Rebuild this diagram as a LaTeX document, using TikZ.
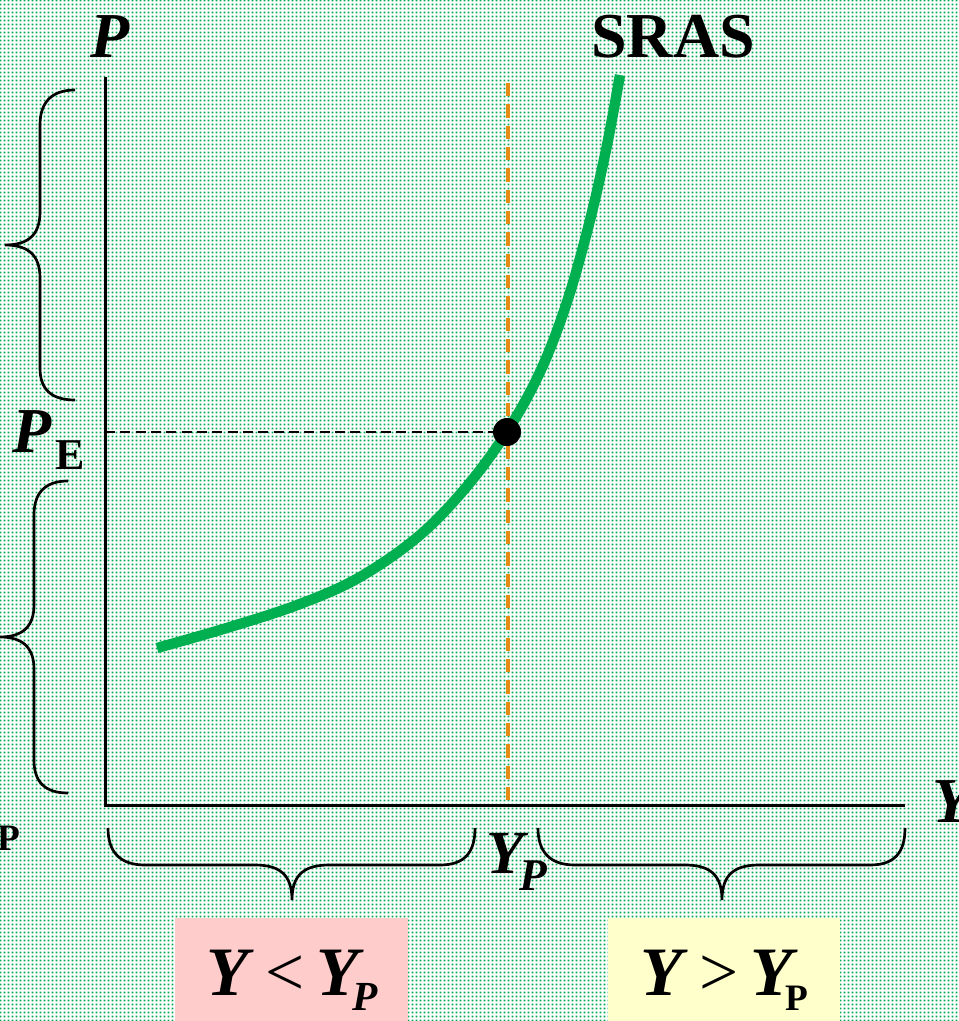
\documentclass[tikz,border=0pt]{standalone}
\usepackage{fontspec}
\setmainfont{Liberation Serif}
\usetikzlibrary{patterns.meta}
\definecolor{dotgreen}{RGB}{0,168,80}
\definecolor{curvegreen}{RGB}{0,176,80}
\definecolor{pinkbox}{RGB}{255,204,204}
\definecolor{yellowbox}{RGB}{255,255,204}
\definecolor{orangeline}{RGB}{230,140,20}
\pgfdeclarepattern{
  name=bgdots, type=uncolored,
  bottom left={\pgfpoint{0pt}{0pt}}, top right={\pgfpoint{3pt}{3pt}},
  tile size={\pgfpoint{3pt}{3pt}},
  code={\pgfpathrectangle{\pgfpoint{0.7pt}{0.7pt}}{\pgfpoint{1.6pt}{1.6pt}}\pgfusepath{fill}}
}
\tikzset{
  lbl/.style={inner sep=0pt, anchor=base west},
  bigfont/.style={font=\fontsize{48}{50}\selectfont\bfseries},
  bracepath/.style={line width=2pt, black},
  axisline/.style={line width=2.25pt, black},
}
\begin{document}
\begin{tikzpicture}[x=0.75pt,y=-0.75pt]
\useasboundingbox (0,0) rectangle (958,1021);
% background
\fill[white] (0,0) rectangle (958,1021);
\fill[pattern=bgdots, pattern color=dotgreen] (0,0) rectangle (958,1021);
% boxes
\fill[pinkbox] (175,918) rectangle (408,1021);
\fill[yellowbox] (608,918) rectangle (840,1021);
% left braces
\draw[bracepath] (75,90) .. controls (52,90) and (40,102) .. (40,125) -- (40,212)
  .. controls (40,235) and (28,245) .. (5,245)
  .. controls (28,245) and (40,255) .. (40,278) -- (40,368)
  .. controls (40,390) and (52,400) .. (75,400);
\draw[bracepath] (68,481) .. controls (45,481) and (34,493) .. (34,515) -- (34,605)
  .. controls (34,627) and (22,637) .. (0,637)
  .. controls (22,637) and (34,647) .. (34,669) -- (34,760)
  .. controls (34,782) and (45,793) .. (68,793);
% bottom braces
\draw[bracepath] (108,828) .. controls (108,852) and (120,865) .. (145,865) -- (255,865)
  .. controls (280,865) and (292,875) .. (292,900)
  .. controls (292,875) and (304,865) .. (329,865) -- (440,865)
  .. controls (465,865) and (475,852) .. (475,828);
\draw[bracepath] (538,828) .. controls (538,852) and (550,865) .. (575,865) -- (685,865)
  .. controls (710,865) and (722,875) .. (722,900)
  .. controls (722,875) and (734,865) .. (759,865) -- (870,865)
  .. controls (895,865) and (905,852) .. (905,828);
% axes
\coordinate (origin) at (105,805);
\coordinate (ytop) at (105,77);
\coordinate (xend) at (905,805);
\draw[axisline] (ytop) -- (origin) -- (xend);
% equilibrium point and guides
\coordinate (E) at (507,432);
\coordinate (PEaxis) at (105,432);
\coordinate (YPtop) at (508,83);
\coordinate (YPaxis) at (508,805);
\draw[line width=1.5pt, dash pattern=on 7.5pt off 4pt] (PEaxis) -- (E);
\draw[orangeline, line width=3pt, dash pattern=on 10pt off 6pt] (YPtop) -- (YPaxis);
% SRAS curve
\draw[curvegreen, line width=7.8pt] plot[smooth, tension=0.6] coordinates {
 (157,648) (230,627) (300,604) (360,577) (420,535) (468,485) (508,430)
 (540,372) (566,305) (588,228) (606,150) (620,75)};
\fill[black] (E) circle[radius=14];
% labels
\node[lbl, bigfont] (Plbl) at (90,57) {\itshape P};
\node[lbl, bigfont] (SRAS) at (591,57) {SRAS};
\node[lbl, bigfont] (PE) at (12,452) {\itshape P};
\node[lbl, font=\fontsize{33}{35}\selectfont\bfseries] (PEsub) at (55,469) {E};
\node[lbl, bigfont] (Ylbl) at (932,822) {\itshape Y};
\node[lbl, font=\fontsize{28}{30}\selectfont\bfseries] (Pcut) at (-3,850) {P};
\node[lbl, font=\fontsize{46}{48}\selectfont\bfseries\itshape] (YP) at (486,873) {Y};
\node[lbl, font=\fontsize{34}{36}\selectfont\bfseries\itshape] (YPsub) at (519,890) {P};
% box texts
\node[lbl, font=\fontsize{52}{54}\selectfont] (ltxt) at (206,995)
  {\textbf{\textit{Y}}\,<\,\textbf{\textit{Y}}};
\node[lbl, font=\fontsize{31}{33}\selectfont\bfseries\itshape] (ltxtsub) at (352,1010) {P};
\node[lbl, font=\fontsize{52}{54}\selectfont] (rtxt) at (640,995)
  {\textbf{\textit{Y}}\,>\,\textbf{\textit{Y}}};
\node[lbl, font=\fontsize{28}{30}\selectfont\bfseries] (rtxtsub) at (785,1010) {P};
\end{tikzpicture}
\end{document}
